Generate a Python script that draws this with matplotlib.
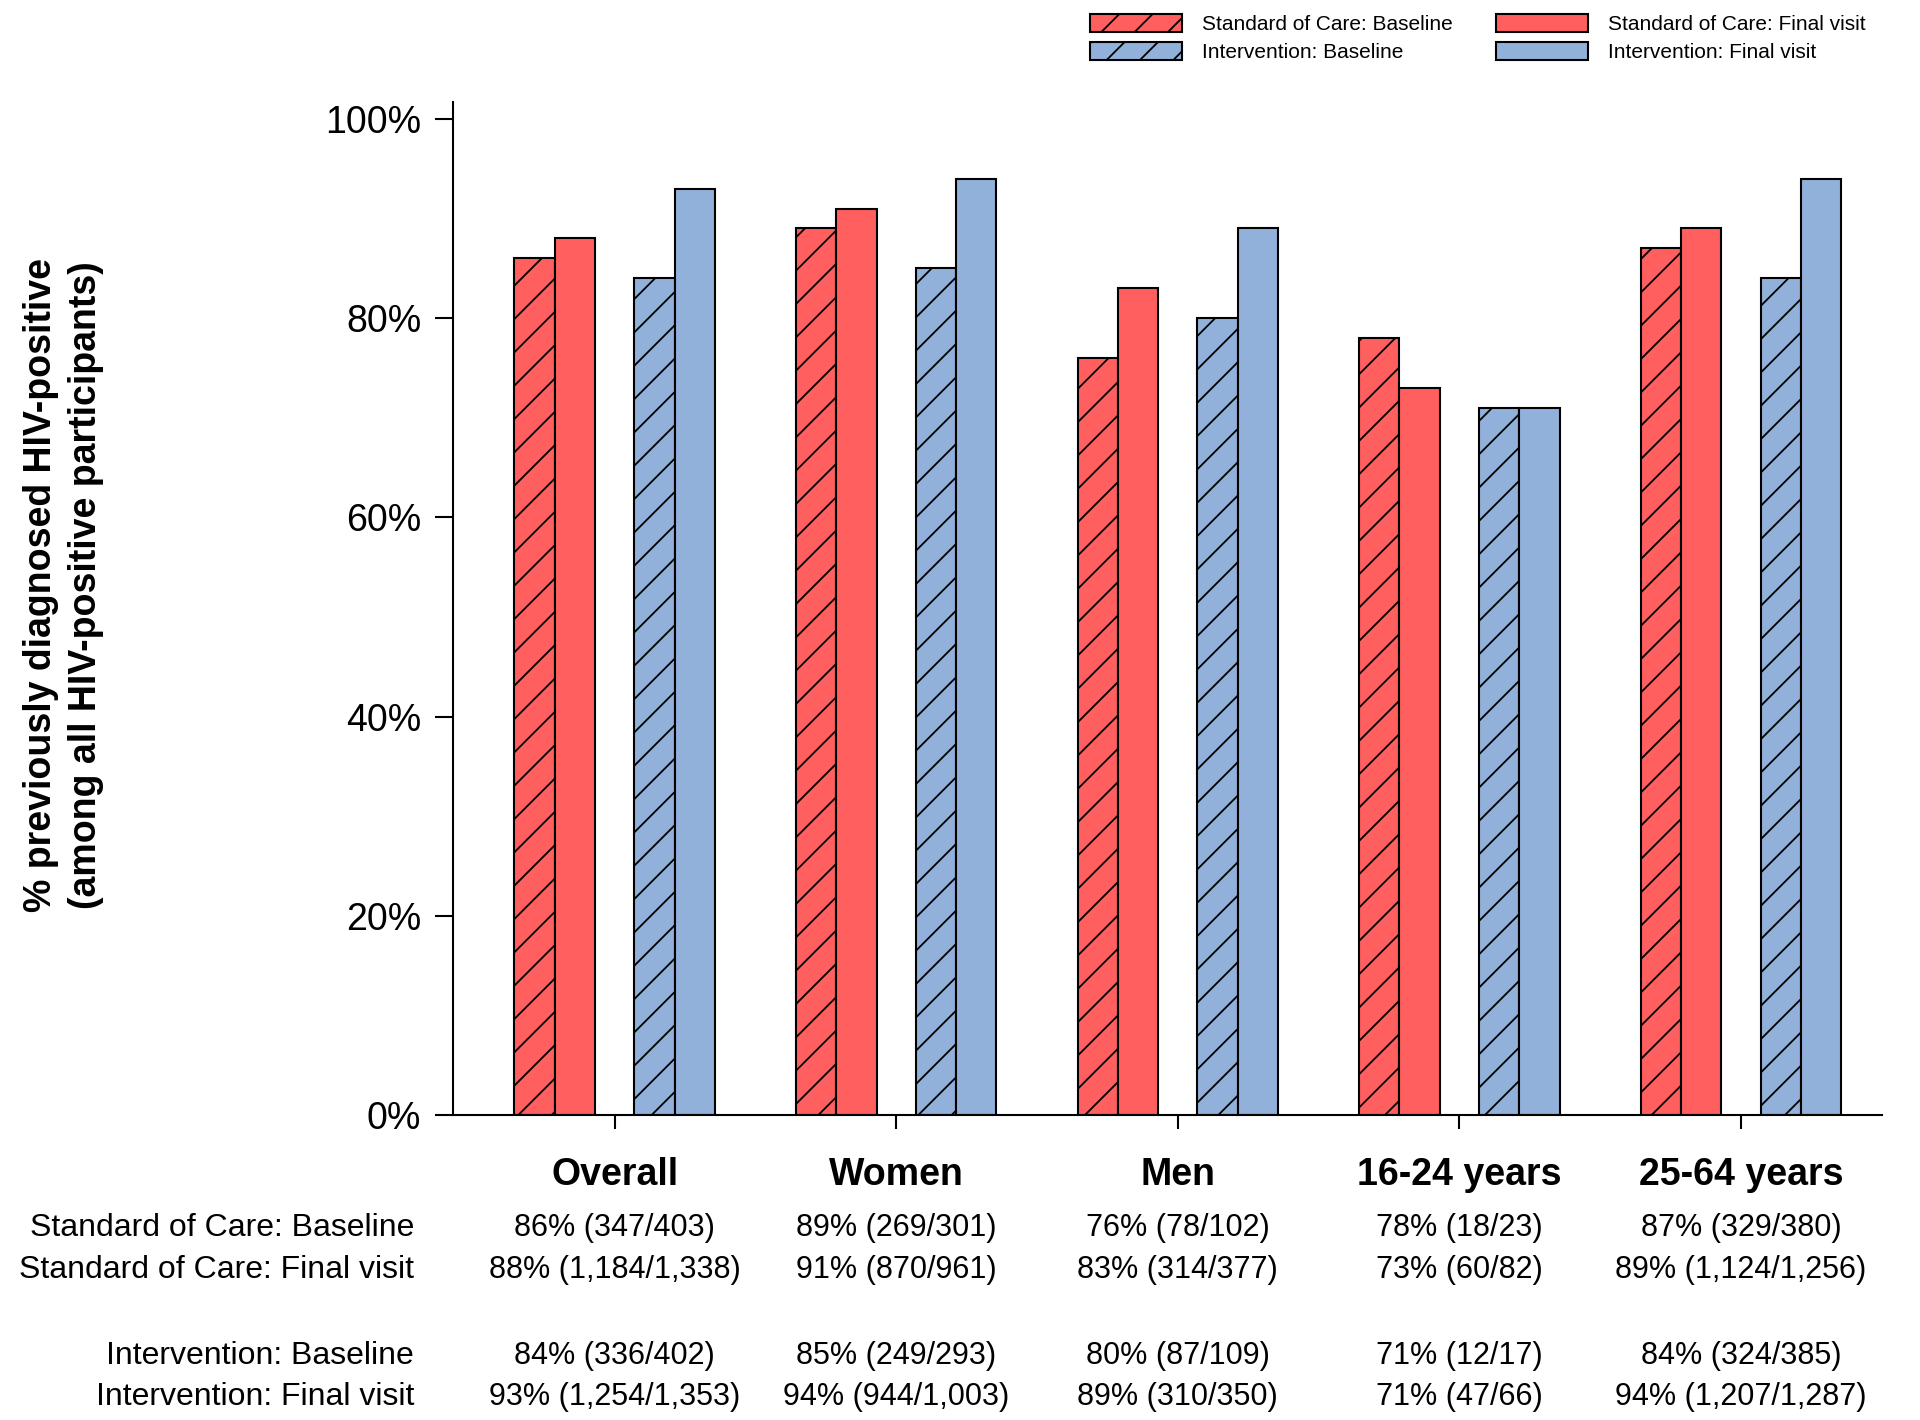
import matplotlib
matplotlib.use('Agg')
import matplotlib.pyplot as plt
import matplotlib.transforms as mtransforms
from matplotlib import font_manager
from matplotlib.patches import Patch
import numpy as np

# Data
groups = ['Overall', 'Women', 'Men', '16-24 years', '25-64 years']
soc_base = [86, 89, 76, 78, 87]
soc_final = [88, 91, 83, 73, 89]
int_base = [84, 85, 80, 71, 84]
int_final = [93, 94, 89, 71, 94]

soc_base_n = ['347/403', '269/301', '78/102', '18/23', '329/380']
soc_final_n = ['1,184/1,338', '870/961', '314/377', '60/82', '1,124/1,256']
int_base_n = ['336/402', '249/293', '87/109', '12/17', '324/385']
int_final_n = ['1,254/1,353', '944/1,003', '310/350', '47/66', '1,207/1,287']

row_labels = ['Standard of Care: Baseline', 'Standard of Care: Final visit',
              'Intervention: Baseline', 'Intervention: Final visit']

red = '#FF5F5F'
blue = '#92B1DA'

plt.rcParams['font.family'] = 'Liberation Sans'
plt.rcParams['hatch.linewidth'] = 1.3

names = {f.name for f in font_manager.fontManager.ttflist}
if 'Liberation Sans Narrow' in names:
    narrow = 'Liberation Sans Narrow'
    lab_size, val_size, leg_size = 28, 27, 18
else:
    narrow = 'Liberation Sans'
    lab_size, val_size, leg_size = 23, 22, 15

fig = plt.figure(figsize=(19.2, 14.2), dpi=100)
ax = fig.add_axes([0.236, 0.2148, 0.744, 0.7134])

x = np.arange(len(groups))
w = 0.143
off = 0.213
kw = dict(edgecolor='black', linewidth=1.5)
ax.bar(x - off - w / 2, soc_base, w, color=red, hatch='/', **kw)
ax.bar(x - off + w / 2, soc_final, w, color=red, **kw)
ax.bar(x + off - w / 2, int_base, w, color=blue, hatch='/', **kw)
ax.bar(x + off + w / 2, int_final, w, color=blue, **kw)

ax.set_xlim(-0.574, 4.5)
ax.set_ylim(0, 101.7)
ax.set_yticks(range(0, 101, 20))
ax.set_yticklabels([f'{v}%' for v in range(0, 101, 20)], fontsize=27)
ax.set_xticks(x)
ax.set_xticklabels([])
ax.tick_params(axis='y', length=13, width=1.5, pad=10)
ax.tick_params(axis='x', length=10, width=1.5)
for s in ['top', 'right']:
    ax.spines[s].set_visible(False)
for s in ['left', 'bottom']:
    ax.spines[s].set_linewidth(1.5)

fig.text(0.033, 0.588, '% previously diagnosed HIV-positive\n(among all HIV-positive participants)',
         rotation=90, ha='center', va='center', fontsize=27, fontweight='bold',
         multialignment='center', linespacing=1.3)

# table under the axis
trans = mtransforms.blended_transform_factory(ax.transData, fig.transFigure)
for i, g in enumerate(groups):
    ax.text(i, 0.1726, g, transform=trans, ha='center', va='center',
            fontsize=27, fontweight='bold')

row_y = [0.1352, 0.1057, 0.0452, 0.0162]
rows = [(soc_base, soc_base_n), (soc_final, soc_final_n),
        (int_base, int_base_n), (int_final, int_final_n)]
for yy, lab, (vals, ns) in zip(row_y, row_labels, rows):
    fig.text(0.2156, yy, lab, ha='right', va='center', fontsize=lab_size, family=narrow)
    for i in range(len(groups)):
        ax.text(i, yy, f'{vals[i]}% ({ns[i]})', transform=trans, ha='center',
                va='center', fontsize=val_size, family=narrow)

handles = [
    Patch(facecolor=red, edgecolor='black', hatch='/', linewidth=1.5),
    Patch(facecolor=blue, edgecolor='black', hatch='/', linewidth=1.5),
    Patch(facecolor=red, edgecolor='black', linewidth=1.5),
    Patch(facecolor=blue, edgecolor='black', linewidth=1.5),
]
labels = [row_labels[0], row_labels[2], row_labels[1], row_labels[3]]
fig.legend(handles, labels, loc='upper left', bbox_to_anchor=(0.5677, 0.990),
           ncol=2, frameon=False, borderpad=0, borderaxespad=0,
           handlelength=4.4, handleheight=0.95, handletextpad=1.0,
           columnspacing=2.05, labelspacing=0.35,
           prop={'family': narrow, 'size': leg_size})

fig.savefig('out.png', dpi=100)
